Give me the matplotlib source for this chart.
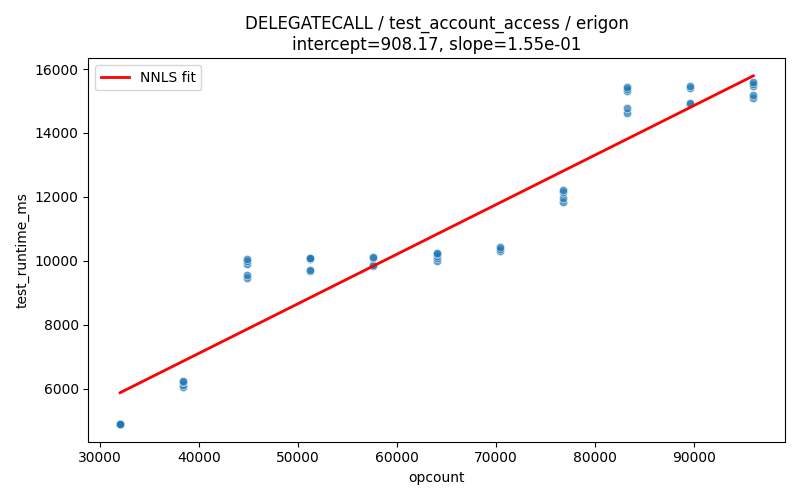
import matplotlib
matplotlib.use("Agg")
import matplotlib.pyplot as plt
import seaborn as sns
import numpy as np

opcount_levels = [32000, 38400, 44800, 51200, 57600, 64000, 70400, 76800, 83200, 89600, 96000]
runtimes = [
    [4880, 4890, 4900, 4885, 4895],
    [6050, 6100, 6200, 6250],
    [9450, 9550, 9900, 10000, 10050],
    [9680, 9700, 10050, 10080, 10100],
    [9830, 9870, 10100, 10130],
    [10000, 10080, 10150, 10200, 10230],
    [10320, 10380, 10430],
    [11850, 11950, 12150, 12200],
    [14620, 14780, 15320, 15380, 15430],
    [14900, 14950, 15420, 15470],
    [15100, 15180, 15480, 15520, 15580],
]
intercept = 908.17
slope = 0.155

xs = []
ys = []
for x, vals in zip(opcount_levels, runtimes):
    for v in vals:
        xs.append(x)
        ys.append(v)
xs = np.array(xs)
ys = np.array(ys)

fig, ax = plt.subplots(figsize=(8, 5), dpi=100)
sns.scatterplot(x=xs, y=ys, ax=ax, alpha=0.7)
xline = np.array([xs.min(), xs.max()])
ax.plot(xline, intercept + slope * xline, color="red", lw=2, label="NNLS fit")
ax.set_xlabel("opcount")
ax.set_ylabel("test_runtime_ms")
ax.set_title(f"DELEGATECALL / test_account_access / erigon\nintercept={intercept:.2f}, slope={slope:.2e}")
ax.legend(loc="upper left")
fig.tight_layout()
fig.savefig("out.png")
